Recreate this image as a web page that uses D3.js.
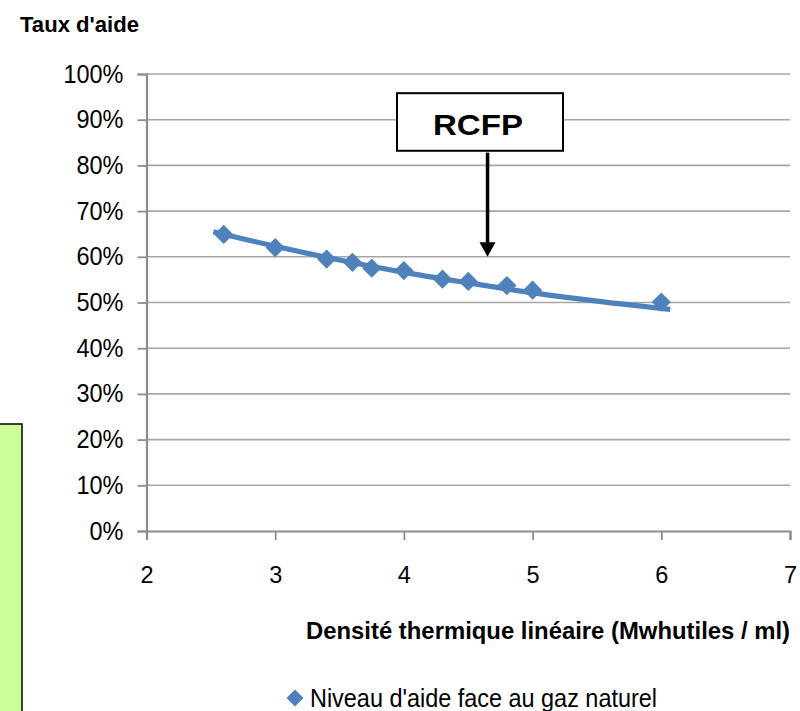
<!DOCTYPE html>
<html>
<head>
<meta charset="utf-8">
<script src="https://cdn.jsdelivr.net/npm/d3@7"></script>
<style>
  html, body { margin: 0; padding: 0; background: #fff; }
  svg { display: block; font-family: "Liberation Sans", Arial, sans-serif; }
</style>
</head>
<body>
<svg id="chart" width="800" height="711"></svg>
<script>
// ---- data ----
const densite = [2.6, 3.0, 3.4, 3.6, 3.75, 4.0, 4.3, 4.5, 4.8, 5.0, 6.0];
const tauxAide = [0.649, 0.620, 0.595, 0.588, 0.575, 0.570, 0.551, 0.546, 0.537, 0.527, 0.501];
// trend line (logarithmic, as drawn in the source)
const trendX = [2.52, 3.0, 3.5, 4.0, 4.5, 5.06, 5.5, 6.07];
const trendY = [0.655, 0.623, 0.593, 0.566, 0.543, 0.519, 0.503, 0.485];
const xTicks = [2, 3, 4, 5, 6, 7];
const yTicks = [0, 0.1, 0.2, 0.3, 0.4, 0.5, 0.6, 0.7, 0.8, 0.9, 1.0];
const seriesName = "Niveau d'aide face au gaz naturel";
const yTitle = "Taux d'aide";
const xTitle = "Densité thermique linéaire (Mwhutiles / ml)";
const annotationLabel = "RCFP";
const annotationX = 4.65;

const svg = d3.select("#chart");
const x = d3.scaleLinear().domain([2, 7]).range([146.5, 790]);
const y = d3.scaleLinear().domain([0, 1]).range([531, 74]);
const blue = "#4F81BD";
const axisGray = "#8C8C8C";

// make glyphs slightly taller than wide, like the source
function stretch(sel, baseSize, tallSize) {
  sel.each(function () {
    const t = d3.select(this).attr("font-size", baseSize);
    const len = this.getComputedTextLength();
    t.attr("font-size", tallSize).attr("textLength", len).attr("lengthAdjust", "spacingAndGlyphs");
  });
}

// green side box
svg.append("rect").attr("x", -5).attr("y", 424).attr("width", 27).attr("height", 300)
  .attr("fill", "#CCFF99").attr("stroke", "#000").attr("stroke-width", 1.5);

// gridlines
svg.append("g").selectAll("line").data(yTicks.filter(d => d > 0)).join("line")
  .attr("x1", x(2)).attr("x2", x(7))
  .attr("y1", d => y(d)).attr("y2", d => y(d))
  .attr("stroke", "#A6A6A6").attr("stroke-width", 1.6);

// y axis
const yAxis = svg.append("g").attr("transform", `translate(${x(2)},0)`)
  .call(d3.axisLeft(y).tickValues(yTicks).tickFormat(d3.format(".0%")).tickSize(9).tickPadding(14));
yAxis.select(".domain").attr("stroke", axisGray).attr("stroke-width", 2.2);
yAxis.selectAll(".tick line").attr("stroke", axisGray).attr("stroke-width", 1.8);
yAxis.selectAll(".tick text").attr("fill", "#000")
  .attr("font-family", "Liberation Sans, Arial, sans-serif").call(stretch, 23.5, 25);

// x axis
const xAxis = svg.append("g").attr("transform", `translate(0,${y(0)})`)
  .call(d3.axisBottom(x).tickValues(xTicks).tickFormat(d3.format("d")).tickSize(9).tickPadding(26));
xAxis.select(".domain").attr("stroke", axisGray).attr("stroke-width", 2.2);
xAxis.selectAll(".tick line").attr("stroke", axisGray).attr("stroke-width", 1.8);
xAxis.selectAll(".tick text").attr("fill", "#000")
  .attr("font-family", "Liberation Sans, Arial, sans-serif").call(stretch, 23.5, 24);

// trend line
svg.append("path")
  .datum(trendX.map((d, i) => [d, trendY[i]]))
  .attr("d", d3.line().x(d => x(d[0])).y(d => y(d[1])).curve(d3.curveMonotoneX))
  .attr("fill", "none").attr("stroke", blue).attr("stroke-width", 5.2);

// markers (diamonds)
svg.append("g").selectAll("path").data(densite).join("path")
  .attr("d", d3.symbol().type(d3.symbolSquare).size(185))
  .attr("transform", (d, i) => `translate(${x(d)},${y(tauxAide[i])}) rotate(45)`)
  .attr("fill", blue);

// annotation RCFP
const ax = x(annotationX);
svg.append("rect").attr("x", 397).attr("y", y(0.958)).attr("width", 166).attr("height", y(0.832) - y(0.958))
  .attr("fill", "#fff").attr("stroke", "#000").attr("stroke-width", 2);
svg.append("text").attr("x", 433).attr("y", 135)
  .attr("font-size", 30).attr("font-weight", "bold")
  .attr("textLength", 90).attr("lengthAdjust", "spacingAndGlyphs").text(annotationLabel);
svg.append("line").attr("x1", ax).attr("x2", ax).attr("y1", y(0.828)).attr("y2", y(0.63))
  .attr("stroke", "#000").attr("stroke-width", 3.5);
svg.append("path")
  .attr("d", `M${ax - 8},${y(0.632)} L${ax + 8},${y(0.632)} L${ax},${y(0.6)} Z`)
  .attr("fill", "#000");

// titles
svg.append("text").attr("x", 20).attr("y", 32).attr("font-size", 22).attr("font-weight", "bold")
  .attr("textLength", 119).attr("lengthAdjust", "spacingAndGlyphs").text(yTitle);
svg.append("text").attr("x", 306).attr("y", 639).attr("font-size", 24).attr("font-weight", "bold")
  .attr("textLength", 484).attr("lengthAdjust", "spacingAndGlyphs").text(xTitle);

// legend
svg.append("path").attr("d", d3.symbol().type(d3.symbolSquare).size(145))
  .attr("transform", "translate(295,698) rotate(45)").attr("fill", blue);
svg.append("text").attr("x", 310).attr("y", 707).attr("font-size", 25)
  .attr("textLength", 347).attr("lengthAdjust", "spacingAndGlyphs").text(seriesName);
</script>
</body>
</html>
